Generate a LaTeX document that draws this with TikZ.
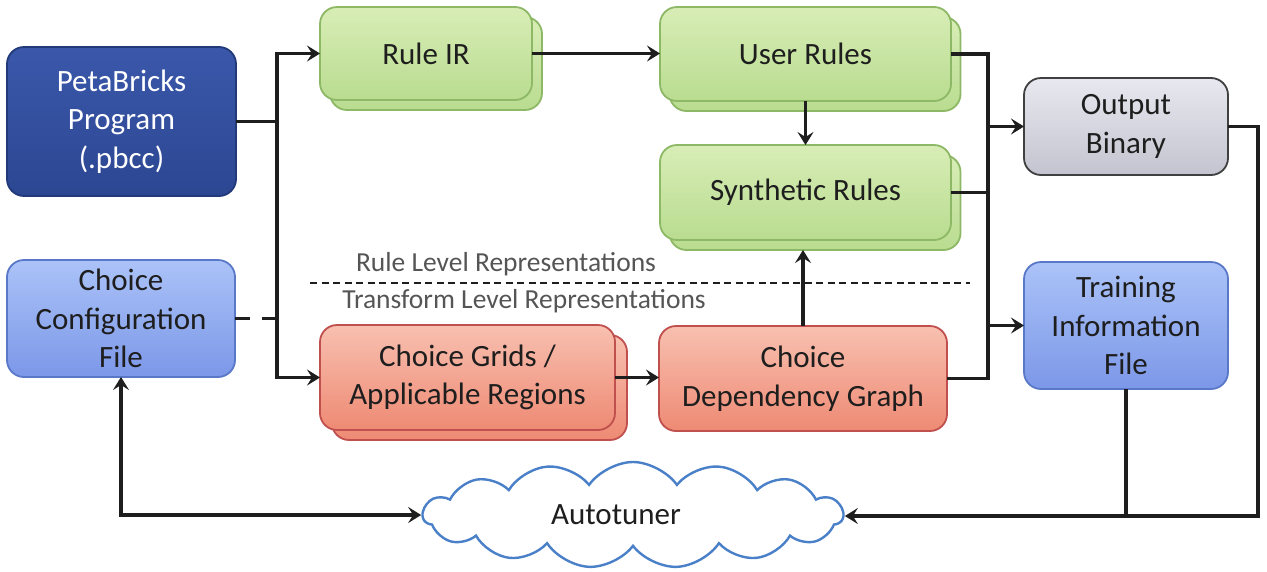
\documentclass[tikz,border=0pt]{standalone}
\usepackage{fontspec}
\setmainfont{Carlito}
\usetikzlibrary{arrows.meta,shapes.symbols,shadings,calc}

\definecolor{inkc}{HTML}{1E1E1E}
\definecolor{greentop}{HTML}{D8EDB6}
\definecolor{greenbot}{HTML}{B9DC90}
\definecolor{greenline}{HTML}{8DB865}
\definecolor{redtop}{HTML}{F8C0B0}
\definecolor{redbot}{HTML}{EE8A74}
\definecolor{redline}{HTML}{C0504D}
\definecolor{bluetop}{HTML}{ABC3F8}
\definecolor{bluebot}{HTML}{7C97E8}
\definecolor{blueline}{HTML}{5A78C8}
\definecolor{navytop}{HTML}{3A57AA}
\definecolor{navybot}{HTML}{2C4792}
\definecolor{navyline}{HTML}{22397A}
\definecolor{greytop}{HTML}{E8E8F0}
\definecolor{greybot}{HTML}{C4C4D0}
\definecolor{cloudline}{HTML}{4A80C8}
\definecolor{labelgrey}{HTML}{555555}

\tikzset{
  x=1pt, y=-1pt,
  box/.style={rounded corners=17pt, line width=1.8pt, inner sep=0pt, outer sep=0pt,
    align=center, text=inkc, font=\fontsize{31}{38.5}\selectfont},
  greenbox/.style={box, draw=greenline, top color=greentop, bottom color=greenbot},
  redbox/.style={box, draw=redline, top color=redtop, bottom color=redbot},
  bluebox/.style={box, draw=blueline, top color=bluetop, bottom color=bluebot},
  navybox/.style={box, draw=navyline, top color=navytop, bottom color=navybot, text=white},
  greybox/.style={box, draw=inkc!85, top color=greytop, bottom color=greybot},
  conn/.style={line width=3.4pt, draw=inkc},
  arr/.style={conn, -{Stealth[length=13pt,width=16pt,inset=5pt]}},
  biarr/.style={conn, {Stealth[length=13pt,width=16pt,inset=5pt]}-{Stealth[length=13pt,width=16pt,inset=5pt]}},
  levellabel/.style={text=labelgrey, font=\fontsize{27.5}{30}\selectfont, inner sep=0pt},
}

\begin{document}
\begin{tikzpicture}
\useasboundingbox (0,0) rectangle (1267,571);

% stacked rule-level boxes (back sheet first)
\node[greenbox, minimum width=212pt, minimum height=93pt] (ruleirB) at (436,63.5) {};
\node[greenbox, minimum width=212pt, minimum height=93pt] (ruleir) at (426,53.5) {Rule IR};

\node[greenbox, minimum width=291pt, minimum height=94pt] (userB) at (815,64) {};
\node[greenbox, minimum width=291pt, minimum height=94pt] (user) at (805.5,54) {User Rules};

\node[greenbox, minimum width=291pt, minimum height=95pt] (synthB) at (815,202.5) {};
\node[greenbox, minimum width=291pt, minimum height=95pt] (synth) at (805.5,192.5) {Synthetic Rules};

% transform-level boxes
\node[redbox, minimum width=295pt, minimum height=105pt] (gridsB) at (479.5,387.5) {};
\node[redbox, minimum width=295pt, minimum height=105pt] (grids) at (467.5,377.5) {Choice Grids /\\Applicable Regions};
\node[redbox, minimum width=288pt, minimum height=105pt] (cdg) at (803,378.5) {Choice\\Dependency Graph};

% inputs and outputs
\node[navybox, minimum width=229pt, minimum height=149pt] (peta) at (121.5,121.5) {PetaBricks\\Program\\(.pbcc)};
\node[bluebox, minimum width=228pt, minimum height=117pt] (config) at (121,318.5) {Choice\\Configuration\\File};
\node[greybox, minimum width=204pt, minimum height=97pt] (binary) at (1126,126.5) {Output\\Binary};
\node[bluebox, minimum width=204pt, minimum height=127pt] (training) at (1126,325.5) {Training\\Information\\File};

\node[cloud, cloud puffs=15, cloud puff arc=110, aspect=4, draw=cloudline, line width=2.4pt,
      fill=white, minimum width=420pt, minimum height=106pt, inner sep=0pt,
      text=inkc, font=\fontsize{31}{38}\selectfont] (tuner) at (633,515) {Autotuner\hspace*{34pt}};

% level separator
\coordinate (sepL) at (310,283);
\coordinate (sepR) at (970,283);
\draw[line width=1.7pt, draw=inkc, dash pattern=on 7pt off 4.5pt] (sepL) -- (sepR);
\node[levellabel] (rulelevel) at (506,264) {Rule Level Representations};
\node[levellabel] (translevel) at (524,301) {Transform Level Representations};

% junction columns
\coordinate (trunk) at (277,0);
\coordinate (bus) at (988,0);
\coordinate (rbus) at (1258,516);

% program fan-out: one trunk with an arrow at each end
\draw[biarr] (ruleir.west) -| (trunk |- grids.west) -- (grids.west);
\draw[conn] (peta.east) -- (peta.east -| trunk);
\draw[conn, dash pattern=on 15pt off 12pt] (config.east) -- (config.east -| trunk);

% compiler passes
\draw[arr] (ruleir.east) -- (ruleir.east -| user.west);
\draw[arr] (user.south) -- (synth.north);
\draw[arr] (cdg.north) -- (cdg.north |- synthB.south);
\draw[arr] (grids.east) -- (grids.east -| cdg.west);

% collection bus
\draw[conn] (user.east) -| (bus |- cdg.east) -- (cdg.east);
\draw[conn] (synth.east) -- (synth.east -| bus);
\draw[arr] (binary.west -| bus) -- (binary.west);
\draw[arr] (training.west -| bus) -- (training.west);

% feedback to the autotuner
\draw[arr] (binary.east) -| (rbus) -- (rbus -| tuner.east);
\draw[conn] (training.south) -- (training.south |- rbus);
\draw[biarr] (config.south) |- (tuner.west);
\end{tikzpicture}
\end{document}
